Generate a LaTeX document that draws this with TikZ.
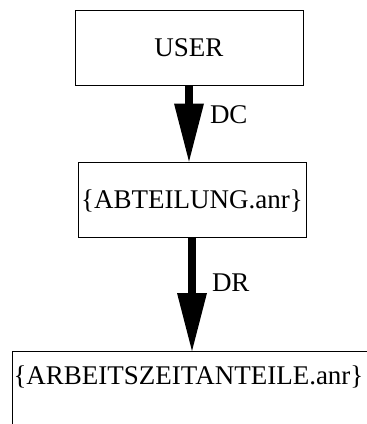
\documentclass[tikz,border=0pt]{standalone}
\usepackage{fontspec}
\setmainfont{Liberation Serif}
\usetikzlibrary{arrows.meta}
\begin{document}
\begin{tikzpicture}[x=1pt,y=-1pt,
  font=\fontsize{27}{32}\selectfont,
  box/.style={draw, line width=1pt, rectangle, inner sep=0pt,
    minimum width=228pt, minimum height=75pt,
    text height=17.9pt, text depth=0pt},
  flow/.style={line width=8pt,
    -{Triangle[width=30pt,length=58pt,line width=0pt]}},
  lbl/.style={anchor=west, inner sep=0pt, text height=17.9pt, text depth=0pt}]
\useasboundingbox (0,0) rectangle (367,424);
\clip (0,0) rectangle (367,424);
% entity boxes
\node[box] (user) at (189,47.5) {USER};
\node[box] (abt) at (192,199.5) {\{ABTEILUNG.anr\}};
\node[draw, line width=1pt, anchor=north west, inner ysep=0pt, inner xsep=1pt,
  text width=358pt, align=left, text height=33pt, text depth=42pt]
  (azt) at (12,351) {\{ARBEITSZEITANTEILE.anr\}};
% dependencies
\draw[flow] (user.south) -- node[lbl, pos=0.38, xshift=17pt]{DC} (user.south |- abt.north);
\draw[flow] (abt.south) -- node[lbl, pos=0.40, xshift=16pt]{DR} (abt.south |- azt.north);
\end{tikzpicture}
\end{document}
